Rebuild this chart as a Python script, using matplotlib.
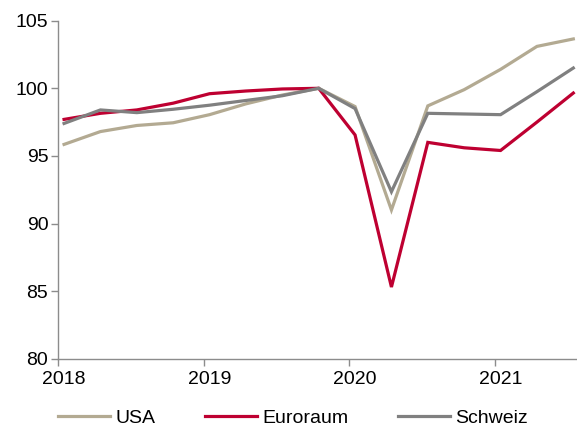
import numpy as np
import matplotlib.pyplot as plt

plt.rcParams['font.family'] = ['Liberation Sans', 'DejaVu Sans']

# quarterly index, 2019Q4 = 100
quarters = ['2018Q1', '2018Q2', '2018Q3', '2018Q4',
            '2019Q1', '2019Q2', '2019Q3', '2019Q4',
            '2020Q1', '2020Q2', '2020Q3', '2020Q4',
            '2021Q1', '2021Q2', '2021Q3']
usa = [95.85, 96.8, 97.25, 97.45, 98.05, 98.85, 99.5, 100.0,
       98.65, 91.0, 98.7, 99.9, 101.4, 103.1, 103.65]
euroraum = [97.7, 98.15, 98.4, 98.9, 99.6, 99.8, 99.95, 100.0,
            96.55, 85.3, 96.0, 95.6, 95.4, 97.5, 99.65]
schweiz = [97.4, 98.4, 98.2, 98.45, 98.75, 99.1, 99.45, 100.0,
           98.5, 92.35, 98.15, 98.1, 98.05, 99.75, 101.5]
years = [2018, 2019, 2020, 2021]

# points sit half a month after the start of each quarter (date axis look)
offset = 0.5 / 12
x = np.array([int(q[:4]) + (int(q[-1]) - 1) * 0.25 for q in quarters]) + offset

fig = plt.figure(figsize=(5.77, 4.30), dpi=100)
ax = fig.add_axes([58 / 577, 1 - 358.7 / 430, 519 / 577, 338 / 430])

lw = 2.3
ax.plot(x, usa, color='#B3AA92', lw=lw, label='USA', solid_joinstyle='miter')
ax.plot(x, euroraum, color='#BE0031', lw=lw, label='Euroraum', solid_joinstyle='miter')
ax.plot(x, schweiz, color='#808080', lw=lw, label='Schweiz', solid_joinstyle='miter')

ax.set_xlim(2018, 2018 + 519 / 145.5)
ax.set_ylim(80, 105)
ax.set_yticks(np.arange(80, 106, 5))

# tick marks at year boundaries, labels under the first point of each year
ax.set_xticks(years, minor=True)
ax.set_xticks(np.array(years) + offset)
ax.set_xticklabels([str(y) for y in years])
ax.tick_params(axis='x', which='major', length=0, pad=9, labelsize=14)
ax.tick_params(axis='x', which='minor', length=5, width=1, color='#8C8C8C')
ax.tick_params(axis='y', length=5, width=1, color='#8C8C8C', pad=2, labelsize=14)

for s in ['top', 'right']:
    ax.spines[s].set_visible(False)
for s in ['left', 'bottom']:
    ax.spines[s].set_color('#8C8C8C')
    ax.spines[s].set_linewidth(1)

fig.legend(loc='center', bbox_to_anchor=(293 / 577, 1 - 418 / 430), ncol=3,
           frameon=False, fontsize=14, handlelength=2.67, handletextpad=0.26,
           columnspacing=2.57, borderaxespad=0)

fig.savefig('out.png', dpi=100)
